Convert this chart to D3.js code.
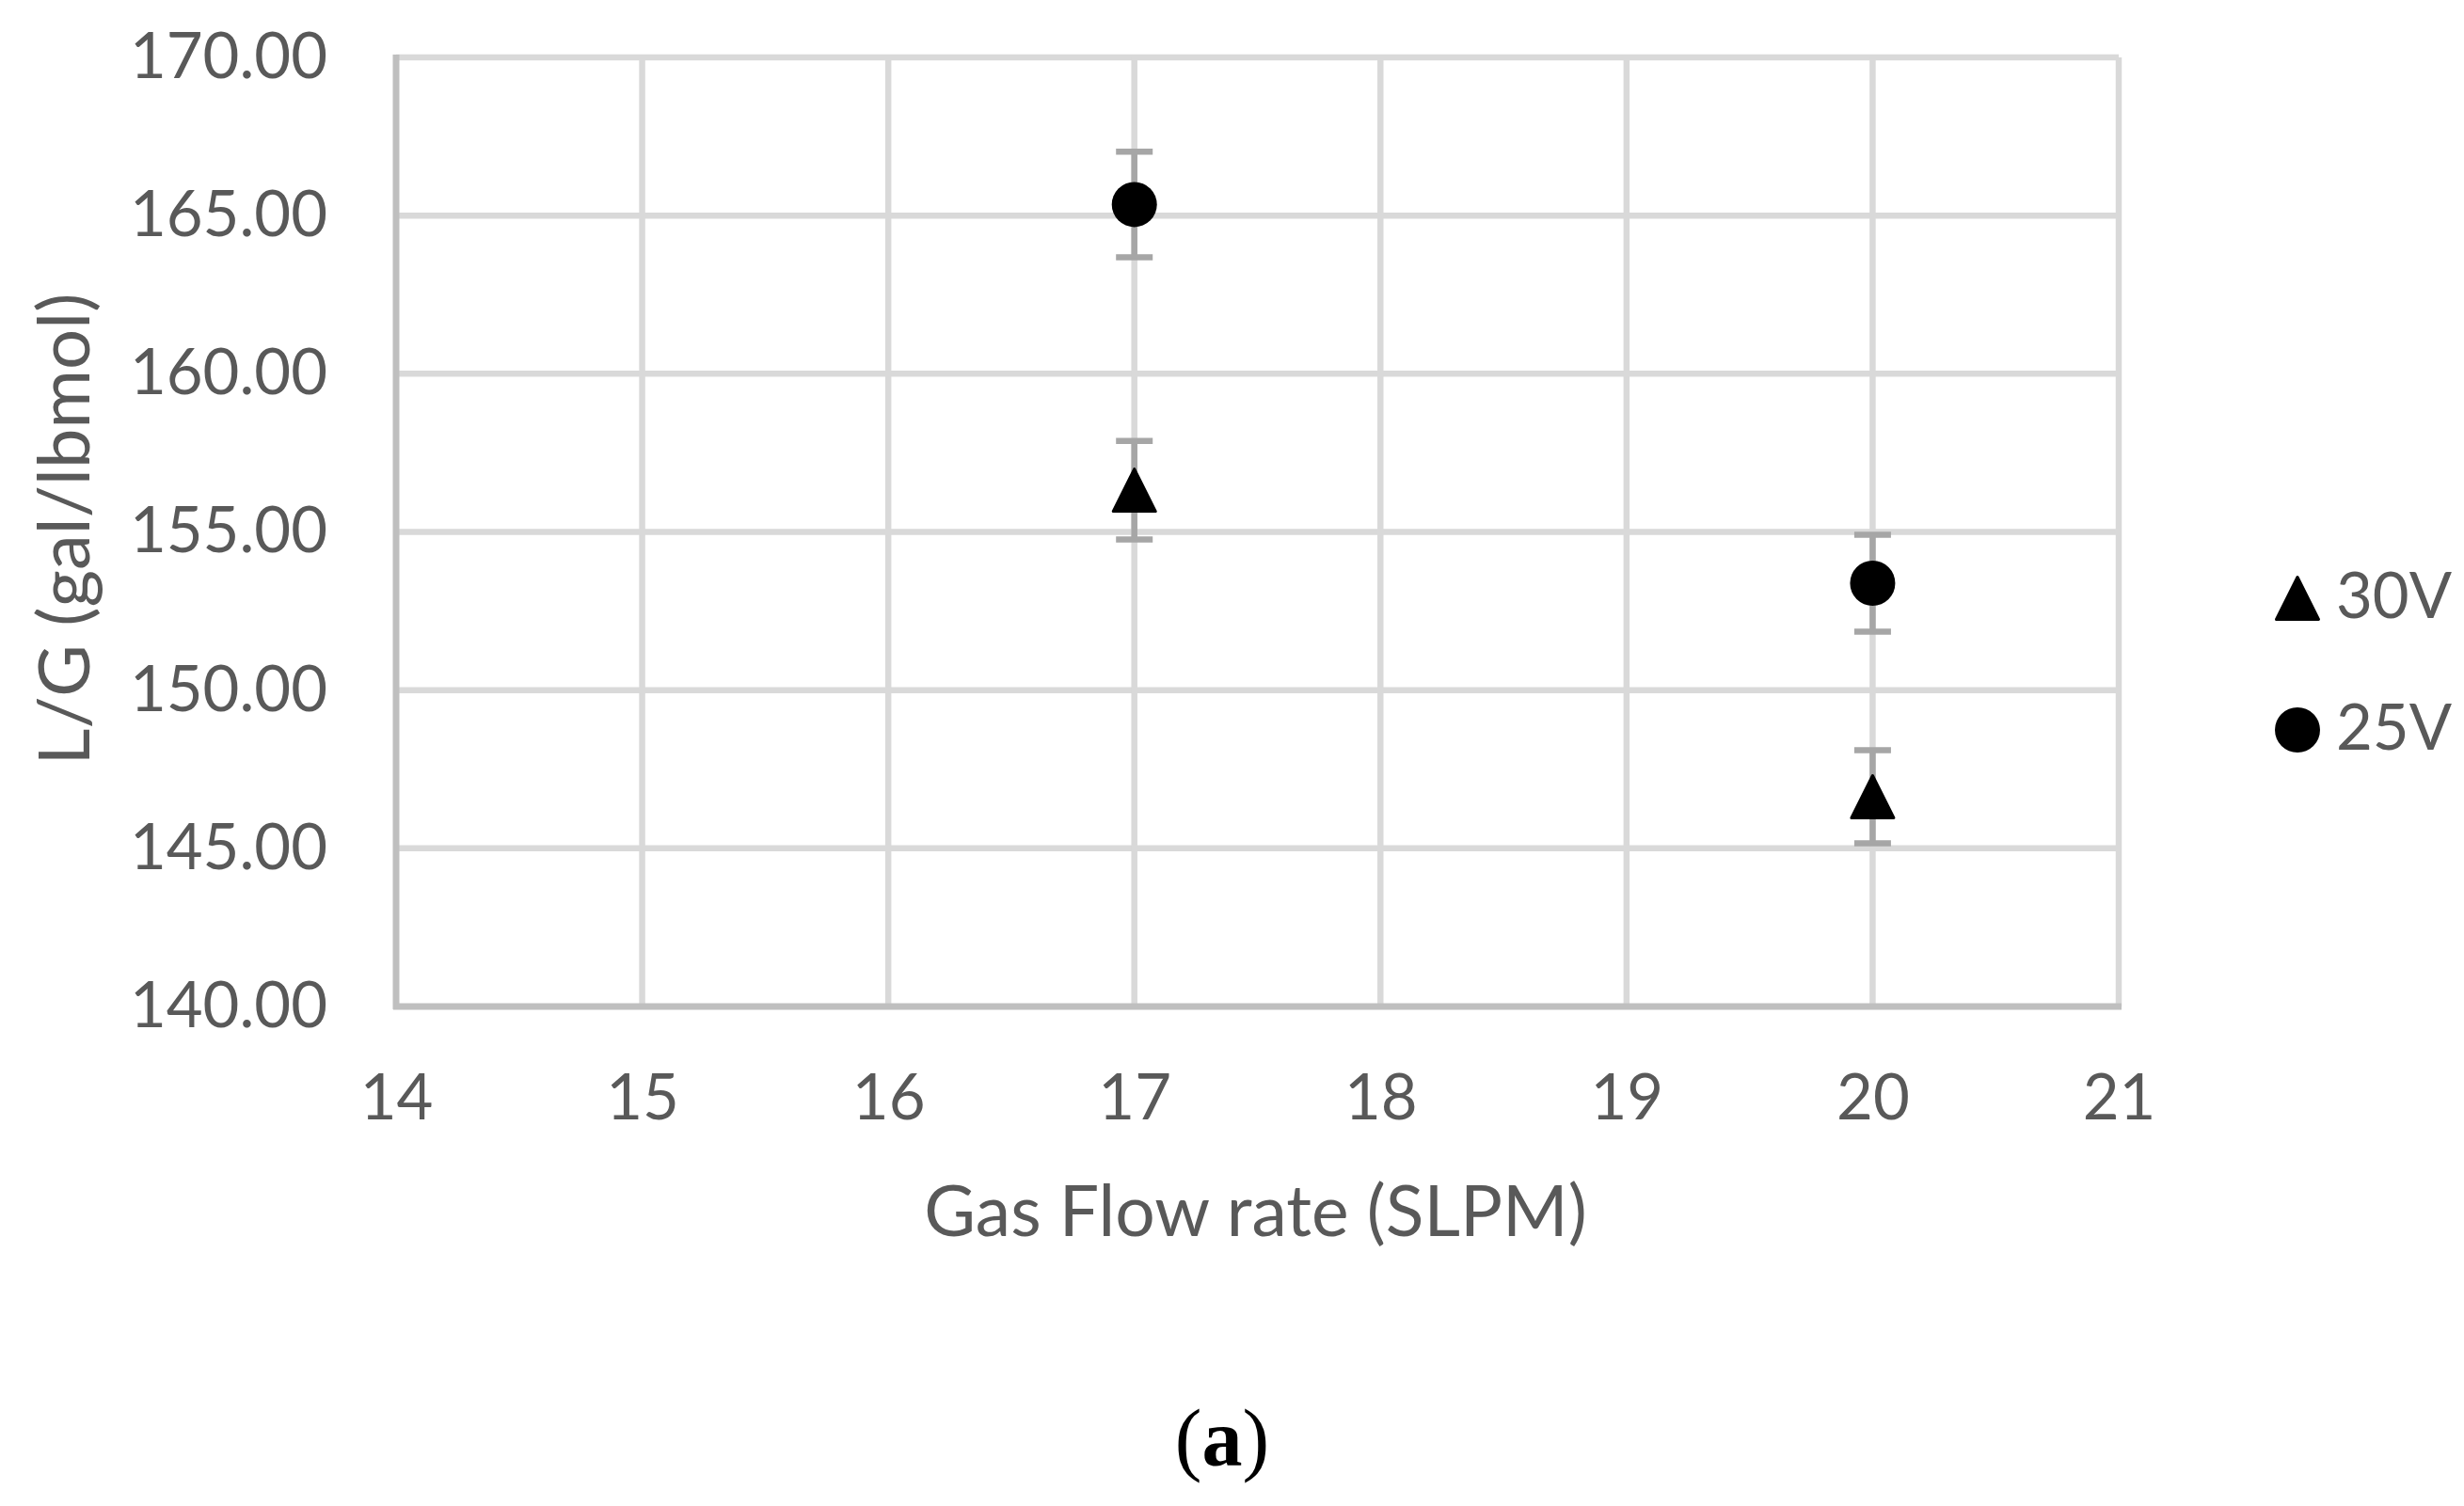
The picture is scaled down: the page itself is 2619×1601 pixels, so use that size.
<!DOCTYPE html>
<html>
<head>
<meta charset="utf-8">
<script src="https://cdn.jsdelivr.net/npm/d3@7"></script>
<style>
  html, body { margin: 0; padding: 0; background: #fff; }
  svg { display: block; }
</style>
</head>
<body>
<script>
// ---- data ----
const flowRates = [17, 20];
const series30V = [156.32, 146.63];
const err30V = [1.56, 1.47];
const series25V = [165.35, 153.38];
const err25V = [1.67, 1.53];
const xTicks = [14, 15, 16, 17, 18, 19, 20, 21];
const yTicks = [140, 145, 150, 155, 160, 165, 170];
const seriesNames = ["30V", "25V"];
const xTitle = "Gas Flow rate (SLPM)";
const yTitle = "L/G (gal/lbmol)";
const panelLabel = "a";

// ---- layout ----
const W = 2619, H = 1601;
const mLeft = 421, mRight = 2252, mTop = 61, mBottom = 1070;
const font = "Lato, 'Open Sans', sans-serif";
const textColor = "#595959";

const svg = d3.select("body").append("svg").attr("width", W).attr("height", H);

const x = d3.scaleLinear().domain([14, 21]).range([mLeft, mRight]);
const y = d3.scaleLinear().domain([140, 170]).range([mBottom, mTop]);

// gridlines
svg.append("g").selectAll("line").data(yTicks.filter(d => d !== 140)).join("line")
  .attr("x1", mLeft).attr("x2", mRight)
  .attr("y1", d => y(d)).attr("y2", d => y(d))
  .attr("stroke", "#d9d9d9").attr("stroke-width", 6.5);
svg.append("g").selectAll("line").data(xTicks.filter(d => d !== 14)).join("line")
  .attr("x1", d => x(d)).attr("x2", d => x(d))
  .attr("y1", mTop).attr("y2", mBottom)
  .attr("stroke", "#d9d9d9").attr("stroke-width", 6.5);

// axis lines
svg.append("line").attr("x1", x(14)).attr("x2", x(14)).attr("y1", mTop - 3).attr("y2", mBottom + 3)
  .attr("stroke", "#bfbfbf").attr("stroke-width", 7);
svg.append("line").attr("x1", mLeft - 3).attr("x2", mRight + 3).attr("y1", y(140)).attr("y2", y(140))
  .attr("stroke", "#bfbfbf").attr("stroke-width", 7);

// axes labels
const yAxis = d3.axisLeft(y).tickValues(yTicks).tickSize(0).tickPadding(73).tickFormat(d3.format(".2f"));
const gy = svg.append("g").attr("transform", `translate(${mLeft},0)`).call(yAxis);
gy.select(".domain").remove();
gy.selectAll("text").attr("font-family", font).attr("font-size", 67).attr("fill", textColor);

const xAxis = d3.axisBottom(x).tickValues(xTicks).tickSize(0).tickPadding(72).tickFormat(d3.format("d"));
const gx = svg.append("g").attr("transform", `translate(0,${mBottom})`).call(xAxis);
gx.select(".domain").remove();
gx.selectAll("text").attr("font-family", font).attr("font-size", 67).attr("fill", textColor);

// axis titles
svg.append("text").attr("x", (mLeft + mRight) / 2 - 2).attr("y", 1314)
  .attr("text-anchor", "middle").attr("font-family", font).attr("font-size", 75)
  .attr("fill", textColor).text(xTitle);
svg.append("text").attr("transform", `translate(95,${(mTop + mBottom) / 2 - 3}) rotate(-90)`)
  .attr("text-anchor", "middle").attr("font-family", font).attr("font-size", 76)
  .attr("fill", textColor).text(yTitle);

// error bars
function drawErr(vals, errs) {
  const g = svg.append("g").attr("stroke", "#a6a6a6").attr("stroke-width", 6.5);
  flowRates.forEach((f, i) => {
    const cx = x(f);
    g.append("line").attr("x1", cx).attr("x2", cx).attr("y1", y(vals[i] - errs[i])).attr("y2", y(vals[i] + errs[i]));
    g.append("line").attr("x1", cx - 19.5).attr("x2", cx + 19.5).attr("y1", y(vals[i] - errs[i])).attr("y2", y(vals[i] - errs[i]));
    g.append("line").attr("x1", cx - 19.5).attr("x2", cx + 19.5).attr("y1", y(vals[i] + errs[i])).attr("y2", y(vals[i] + errs[i]));
  });
}
drawErr(series30V, err30V);
drawErr(series25V, err25V);

const triPath = "M0,-22.5 L22.5,22.5 L-22.5,22.5 Z";

// markers
svg.append("g").selectAll("path").data(flowRates).join("path")
  .attr("d", triPath)
  .attr("transform", (d, i) => `translate(${x(d)},${y(series30V[i])})`)
  .attr("fill", "#000").attr("stroke", "#000").attr("stroke-width", 3).attr("stroke-linejoin", "round");
svg.append("g").selectAll("circle").data(flowRates).join("circle")
  .attr("cx", d => x(d)).attr("cy", (d, i) => y(series25V[i])).attr("r", 24)
  .attr("fill", "#000");

// legend
const lg = svg.append("g");
lg.append("path").attr("d", triPath).attr("transform", "translate(2442,636)")
  .attr("fill", "#000").attr("stroke", "#000").attr("stroke-width", 3).attr("stroke-linejoin", "round");
lg.append("circle").attr("cx", 2442).attr("cy", 776).attr("r", 24).attr("fill", "#000");
lg.append("text").attr("x", 2483).attr("y", 657).attr("font-family", font).attr("font-size", 67)
  .attr("fill", textColor).text(seriesNames[0]);
lg.append("text").attr("x", 2483).attr("y", 797).attr("font-family", font).attr("font-size", 67)
  .attr("fill", textColor).text(seriesNames[1]);

// panel label
const pl = svg.append("text").attr("x", 1299).attr("y", 1558).attr("text-anchor", "middle")
  .attr("font-family", "'Liberation Serif', 'Times New Roman', serif").attr("font-size", 86).attr("fill", "#000");
pl.append("tspan").text("(");
pl.append("tspan").attr("font-weight", "bold").text(panelLabel);
pl.append("tspan").text(")");
</script>
</body>
</html>
